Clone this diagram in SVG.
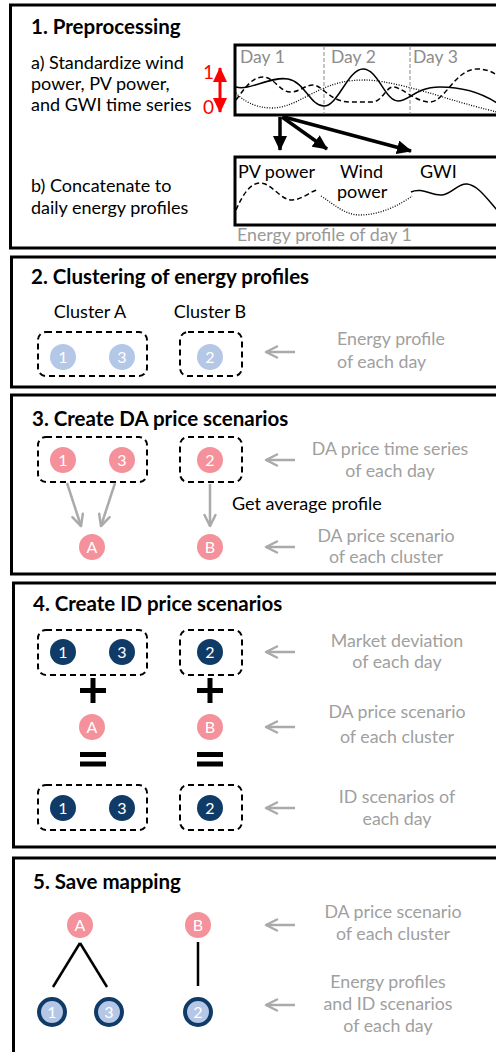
<svg xmlns="http://www.w3.org/2000/svg" width="496" height="1052" viewBox="0 0 496 1052">
<defs>
<style>
text{font-family:Lato,"Liberation Sans",sans-serif;}
.panel{fill:#fff;stroke:#000;stroke-width:3;}
.title{font-size:20.5px;font-weight:bold;fill:#000;}
.lbl{font-size:18px;fill:#000;}
.gray{font-size:17.8px;fill:#a0a0a0;text-anchor:middle;}
.day{font-size:17.5px;fill:#8c8c8c;}
.dbox{fill:none;stroke:#000;stroke-width:2;stroke-dasharray:6 4;}
.pink{fill:#f4919b;}
.lblue{fill:#b4c7e7;}
.navy{fill:#0f3b66;}
.ring{fill:#b4c7e7;stroke:#0f3b66;stroke-width:4;}
.num{font-size:16px;fill:#fff;text-anchor:middle;}
.garrow{stroke:#aaa;stroke-width:2.5;fill:none;marker-end:url(#gh);}
.barrow{stroke:#000;stroke-width:3.5;fill:none;marker-end:url(#bh);}
.curve{fill:none;stroke:#000;stroke-width:1.5;}
.dash{stroke-dasharray:5 3;}
.dot{stroke-dasharray:1 1.5;stroke-width:1.3;}
.link{stroke:#000;stroke-width:2.5;}
.op{fill:#000;}
</style>
<marker id="gh" markerUnits="userSpaceOnUse" viewBox="-2 -2 16 16" markerWidth="16" markerHeight="16" refX="12" refY="6" orient="auto">
<path d="M1,0.5 L12,6 L1,11.5" fill="none" stroke="#aaa" stroke-width="2.5" stroke-linecap="round" stroke-linejoin="round"/>
</marker>
<marker id="bh" markerUnits="userSpaceOnUse" viewBox="0 0 16 14" markerWidth="16" markerHeight="14" refX="14" refY="7" orient="auto">
<path d="M0,0 L15,7 L0,14 z" fill="#000"/>
</marker>
<marker id="rh" markerUnits="userSpaceOnUse" viewBox="0 0 15 14" markerWidth="15" markerHeight="14" refX="14" refY="7" orient="auto-start-reverse">
<path d="M0,0 L15,7 L0,14 z" fill="#ff0000"/>
</marker>
</defs>

<g id="panel1">
<rect class="panel" x="10.5" y="5" width="500" height="243"/>
<text class="title" x="31" y="34">1. Preprocessing</text>
<text class="lbl" x="31" y="68.5">a) Standardize wind</text>
<text class="lbl" x="31" y="89.5">power, PV power,</text>
<text class="lbl" x="31" y="110.5">and GWI time series</text>
<text x="203" y="79" style="font-size:19px;fill:#ff0000">1</text>
<text x="203" y="114" style="font-size:19px;fill:#ff0000">0</text>
<line x1="220" y1="68" x2="220" y2="112" stroke="#ff0000" stroke-width="3" marker-start="url(#rh)" marker-end="url(#rh)"/>
<g id="chart-series">
<rect x="235" y="45" width="280" height="70" fill="#fff" stroke="#000" stroke-width="3"/>
<line x1="324" y1="46" x2="324" y2="114" stroke="#888" stroke-width="1" stroke-dasharray="4 2"/>
<line x1="410" y1="46" x2="410" y2="114" stroke="#888" stroke-width="1" stroke-dasharray="4 2"/>
<text class="day" x="240" y="63">Day 1</text>
<text class="day" x="331" y="63">Day 2</text>
<text class="day" x="413" y="63">Day 3</text>
<path class="curve" d="M236,87 C250,91 270,76 288,79 C305,82 310,106 324,106 C338,106 348,69 363,69 C378,69 385,101 398,101 C410,101 415,87 440,87 C462,87 480,92 497,103"/>
<path class="curve dash" d="M236,100 C245,88 252,77 263,77 C274,77 280,92 290,92 C300,92 305,85 313,85 C322,85 330,102 350,102 L372,102 C382,102 386,87 393,87 C402,87 415,102 430,102 C445,102 455,69 477,69 C487,69 492,72 497,75"/>
<path class="curve dot" d="M236,93 C242,100 255,108 272,108 C290,108 305,96 324,88 C338,82 350,80 365,80 C385,80 420,90 443,97 C465,104 485,109 497,112"/>
</g>
<text class="lbl" x="31" y="191.5">b) Concatenate to</text>
<text class="lbl" x="31" y="213.5">daily energy profiles</text>
<g id="chart-profile">
<rect x="235" y="157" width="280" height="68" fill="#fff" stroke="#000" stroke-width="3"/>
<text class="lbl" x="238" y="178">PV power</text>
<text class="lbl" x="340" y="178">Wind</text>
<text class="lbl" x="337" y="198">power</text>
<text class="lbl" x="420" y="178">GWI</text>
<path class="curve dash" d="M236,210 C242,196 250,183 260,183 C272,183 280,200 292,200 C302,200 312,190 318,190"/>
<path class="curve dot" d="M321,196 C335,205 345,215 360,215 C380,215 400,205 412,196"/>
<path class="curve" d="M411,192 C422,187 432,196 442,195 C452,194 458,183 467,184 C478,185 488,200 497,210"/>
</g>
<text x="237" y="241" style="font-size:17.8px;fill:#999">Energy profile of day 1</text>
</g>

<g id="panel2">
<rect class="panel" x="11.5" y="257" width="500" height="130"/>
<text class="title" x="31" y="284">2. Clustering of energy profiles</text>
<text class="lbl" x="90" y="318" text-anchor="middle">Cluster A</text>
<text class="lbl" x="210" y="318" text-anchor="middle">Cluster B</text>
<rect class="dbox" x="38" y="332" width="109" height="44" rx="8"/>
<rect class="dbox" x="180" y="332" width="62" height="44" rx="8"/>
<g id="p2-day1"><circle class="lblue" cx="63" cy="357" r="13"/><text class="num" x="63" y="362.5">1</text></g>
<g id="p2-day3"><circle class="lblue" cx="122" cy="357" r="13"/><text class="num" x="122" y="362.5">3</text></g>
<g id="p2-day2"><circle class="lblue" cx="210" cy="357" r="13"/><text class="num" x="210" y="362.5">2</text></g>
<text class="gray" x="337" y="345" style="text-anchor:start">Energy profile</text>
<text class="gray" x="337" y="368" style="text-anchor:start">of each day</text>
</g>

<g id="panel3">
<rect class="panel" x="11.5" y="395" width="500" height="179"/>
<text class="title" x="32" y="426">3. Create DA price scenarios</text>
<rect class="dbox" x="38" y="437" width="109" height="45" rx="8"/>
<rect class="dbox" x="180" y="437" width="62" height="45" rx="8"/>
<g id="p3-day1"><circle class="pink" cx="63" cy="460" r="13"/><text class="num" x="63" y="465.5">1</text></g>
<g id="p3-day3"><circle class="pink" cx="122" cy="460" r="13"/><text class="num" x="122" y="465.5">3</text></g>
<g id="p3-day2"><circle class="pink" cx="210" cy="460" r="13"/><text class="num" x="210" y="465.5">2</text></g>
<g id="p3-A"><circle class="pink" cx="92" cy="547" r="13"/><text class="num" x="92" y="552.5">A</text></g>
<g id="p3-B"><circle class="pink" cx="210" cy="547" r="13"/><text class="num" x="210" y="552.5">B</text></g>
<text class="lbl" x="232" y="510">Get average profile</text>
<text class="gray" x="390" y="455">DA price time series</text>
<text class="gray" x="390" y="477">of each day</text>
<text class="gray" x="386" y="542">DA price scenario</text>
<text class="gray" x="386" y="563">of each cluster</text>
</g>

<g id="panel4">
<rect class="panel" x="13.5" y="583" width="500" height="264"/>
<text class="title" x="33" y="611">4. Create ID price scenarios</text>
<rect class="dbox" x="38" y="630" width="109" height="45" rx="8"/>
<rect class="dbox" x="180" y="630" width="62" height="45" rx="8"/>
<g id="p4-dev1"><circle class="navy" cx="63" cy="652" r="13"/><text class="num" x="63" y="657.5">1</text></g>
<g id="p4-dev3"><circle class="navy" cx="122" cy="652" r="13"/><text class="num" x="122" y="657.5">3</text></g>
<g id="p4-dev2"><circle class="navy" cx="210" cy="652" r="13"/><text class="num" x="210" y="657.5">2</text></g>
<g id="p4-plusA"><rect class="op" x="80" y="688" width="26" height="5"/><rect class="op" x="90.5" y="678" width="5" height="25"/></g>
<g id="p4-plusB"><rect class="op" x="197" y="688" width="26" height="5"/><rect class="op" x="207.5" y="678" width="5" height="25"/></g>
<g id="p4-A"><circle class="pink" cx="92" cy="727" r="13"/><text class="num" x="92" y="732.5">A</text></g>
<g id="p4-B"><circle class="pink" cx="210" cy="727" r="13"/><text class="num" x="210" y="732.5">B</text></g>
<g id="p4-eqA"><rect class="op" x="80" y="752" width="26" height="5"/><rect class="op" x="80" y="761.5" width="26" height="5"/></g>
<g id="p4-eqB"><rect class="op" x="197" y="752" width="26" height="5"/><rect class="op" x="197" y="761.5" width="26" height="5"/></g>
<rect class="dbox" x="38" y="785" width="109" height="45" rx="8"/>
<rect class="dbox" x="180" y="785" width="62" height="45" rx="8"/>
<g id="p4-id1"><circle class="navy" cx="63" cy="808" r="13"/><text class="num" x="63" y="813.5">1</text></g>
<g id="p4-id3"><circle class="navy" cx="122" cy="808" r="13"/><text class="num" x="122" y="813.5">3</text></g>
<g id="p4-id2"><circle class="navy" cx="210" cy="808" r="13"/><text class="num" x="210" y="813.5">2</text></g>
<text class="gray" x="397" y="647">Market deviation</text>
<text class="gray" x="397" y="668">of each day</text>
<text class="gray" x="397" y="718">DA price scenario</text>
<text class="gray" x="397" y="743">of each cluster</text>
<text class="gray" x="397" y="803">ID scenarios of</text>
<text class="gray" x="397" y="825">each day</text>
</g>

<g id="panel5">
<rect class="panel" x="13.5" y="858" width="500" height="210"/>
<text class="title" x="33" y="889">5. Save mapping</text>
<g id="p5-A"><circle class="pink" cx="80" cy="925" r="13"/><text class="num" x="80" y="930.5">A</text></g>
<g id="p5-B"><circle class="pink" cx="198" cy="925" r="13"/><text class="num" x="198" y="930.5">B</text></g>
<g id="p5-day1"><circle class="ring" cx="52" cy="1012" r="13"/><text class="num" x="52" y="1017.5">1</text></g>
<g id="p5-day3"><circle class="ring" cx="109" cy="1012" r="13"/><text class="num" x="109" y="1017.5">3</text></g>
<g id="p5-day2"><circle class="ring" cx="198" cy="1012" r="13"/><text class="num" x="198" y="1017.5">2</text></g>
<text class="gray" x="393" y="918">DA price scenario</text>
<text class="gray" x="393" y="940">of each cluster</text>
<text class="gray" x="388" y="988">Energy profiles</text>
<text class="gray" x="388" y="1010">and ID scenarios</text>
<text class="gray" x="388" y="1032">of each day</text>
</g>

<g id="connectors">
<line class="barrow" x1="280" y1="117" x2="280" y2="150"/>
<line class="barrow" x1="282" y1="117" x2="327" y2="149"/>
<line class="barrow" x1="284" y1="117" x2="411" y2="151"/>
<line class="garrow" x1="295" y1="352" x2="266" y2="352"/>
<line class="garrow" x1="67" y1="483" x2="81" y2="526"/>
<line class="garrow" x1="115" y1="483" x2="101" y2="526"/>
<line class="garrow" x1="210" y1="484" x2="210" y2="526"/>
<line class="garrow" x1="295" y1="460" x2="266" y2="460"/>
<line class="garrow" x1="295" y1="547" x2="266" y2="547"/>
<line class="garrow" x1="295" y1="652" x2="266" y2="652"/>
<line class="garrow" x1="295" y1="727" x2="266" y2="727"/>
<line class="garrow" x1="295" y1="808" x2="266" y2="808"/>
<line class="garrow" x1="295" y1="925" x2="266" y2="925"/>
<line class="garrow" x1="295" y1="1005" x2="266" y2="1005"/>
<line class="link" x1="80" y1="943" x2="53" y2="987"/>
<line class="link" x1="80" y1="943" x2="107" y2="987"/>
<line class="link" x1="198" y1="942" x2="198" y2="986"/>
</g>
</svg>
